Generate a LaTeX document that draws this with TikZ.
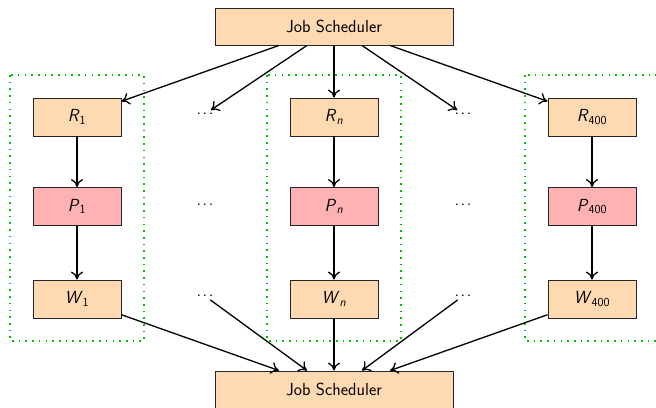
\documentclass[tikz,border=0pt]{standalone}
\usetikzlibrary{arrows.meta}
\renewcommand{\familydefault}{\sfdefault}
\newcommand{\mydots}{.\kern1.6pt.\kern1.6pt.}
\begin{document}
\begin{tikzpicture}[x=1pt,y=-1pt,
  font=\fontsize{17.5}{20}\selectfont\sffamily,
  box/.style={draw=black!85,line width=0.9pt,minimum width=88pt,minimum height=38pt,inner sep=0pt},
  rbox/.style={box,fill=orange!30},
  pbox/.style={box,fill=red!30},
  jsbox/.style={box,fill=orange!30,minimum width=238pt,minimum height=37pt},
  dotsnode/.style={inner sep=3pt},
  arr/.style={-{To[length=8pt,width=12pt]},line width=1.3pt},
  group/.style={draw=green!75!black,line width=2.2pt,dash pattern=on 1.6pt off 5.1pt}]
\useasboundingbox (0,0) rectangle (656,407);
% groups
\draw[group] (10,75) rectangle (144,341);
\draw[group] (267,75) rectangle (401,341);
\draw[group] (525,75) rectangle (660,341);
% schedulers
\node[jsbox] (js1) at (334,26.5) {Job Scheduler};
\node[jsbox] (js2) at (334,389.5) {Job Scheduler};
% column 1
\node[rbox] (r1) at (77,117) {\textit{R}\textsubscript{1}};
\node[pbox] (p1) at (77,206.5) {\textit{P}\textsubscript{1}};
\node[rbox] (w1) at (77,299) {\textit{W}\textsubscript{1}};
% column n
\node[rbox] (rn) at (334,117) {\textit{R}\textsubscript{\textit{n}}};
\node[pbox] (pn) at (334,206.5) {\textit{P}\textsubscript{\textit{n}}};
\node[rbox] (wn) at (334,299) {\textit{W}\textsubscript{\textit{n}}};
% column 400
\node[rbox] (r4) at (592,117) {\textit{R}\textsubscript{400}};
\node[pbox] (p4) at (592,206.5) {\textit{P}\textsubscript{400}};
\node[rbox] (w4) at (592,299) {\textit{W}\textsubscript{400}};
% dots
\node[dotsnode] (da1) at (205,114) {\mydots};
\node[dotsnode] (da2) at (205,205) {\mydots};
\node[dotsnode] (da3) at (205,296) {\mydots};
\node[dotsnode] (db1) at (463,114) {\mydots};
\node[dotsnode] (db2) at (463,205) {\mydots};
\node[dotsnode] (db3) at (463,296) {\mydots};
% top arrows
\draw[arr] ([xshift=-55pt]js1.south) -- (r1);
\draw[arr] ([xshift=-27pt]js1.south) -- (da1);
\draw[arr] (js1.south) -- (rn);
\draw[arr] ([xshift=28pt]js1.south) -- (db1);
\draw[arr] ([xshift=56pt]js1.south) -- (r4);
% vertical arrows
\draw[arr] (r1) -- (p1);
\draw[arr] (p1) -- (w1);
\draw[arr] (rn) -- (pn);
\draw[arr] (pn) -- (wn);
\draw[arr] (r4) -- (p4);
\draw[arr] (p4) -- (w4);
% bottom arrows
\draw[arr] (w1) -- ([xshift=-55pt]js2.north);
\draw[arr] (da3) -- ([xshift=-27pt]js2.north);
\draw[arr] (wn) -- (js2.north);
\draw[arr] (db3) -- ([xshift=28pt]js2.north);
\draw[arr] (w4) -- ([xshift=56pt]js2.north);
\end{tikzpicture}
\end{document}
